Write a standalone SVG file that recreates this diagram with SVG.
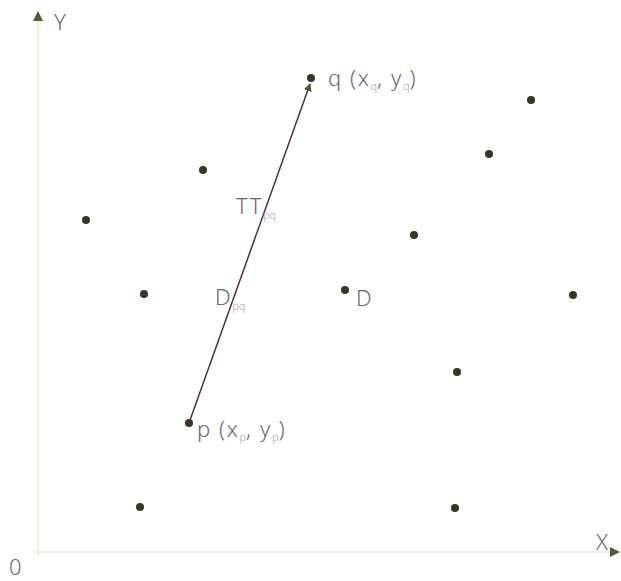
<svg xmlns="http://www.w3.org/2000/svg" width="621" height="581" viewBox="0 0 621 581">
<style>
.lbl{font-family:"Noto Sans","Liberation Sans",sans-serif;font-size:22px;fill:#6a6670;font-weight:300;letter-spacing:1.6px}
.sub{font-size:11px;fill:#9aa6b4;letter-spacing:0}
.pt{fill:#3b3528}
.axis{stroke:#e8e4c8;stroke-width:1.2;fill:none}
</style>
<defs>
<marker id="ah" markerWidth="8" markerHeight="8" refX="7" refY="4" orient="auto" markerUnits="userSpaceOnUse">
<path d="M0,0 L8,4 L0,8 z" fill="#4c5a3a"/>
</marker>
<marker id="axh" markerWidth="10" markerHeight="10" refX="9" refY="5" orient="auto" markerUnits="userSpaceOnUse">
<path d="M0,0 L10,5 L0,10 z" fill="#5a5a3a"/>
</marker>
</defs>
<g id="axes">
<line class="axis" x1="38" y1="556" x2="38" y2="12" marker-end="url(#axh)" stroke="#dfe6ec"/>
<line class="axis" x1="34" y1="552" x2="619" y2="552" marker-end="url(#axh)"/>
<text class="lbl" x="54" y="30">Y</text>
<text class="lbl" x="596" y="550">X</text>
<text class="lbl" x="9" y="575" fill="#8a6a7a">0</text>
</g>
<g id="connectors">
<line x1="189" y1="423" x2="310" y2="84" stroke="#5a2b3e" stroke-width="1.5" marker-end="url(#ah)"/>
</g>
<g id="node-q"><circle class="pt" cx="311" cy="78" r="4" fill="#4a5a38"/>
<text class="lbl" x="328" y="86">q (x<tspan class="sub" dy="4">q</tspan><tspan dy="-4">, y</tspan><tspan class="sub" dy="4">q</tspan><tspan dy="-4">)</tspan></text></g>
<g id="node-p"><circle class="pt" cx="189" cy="423" r="4"/>
<text class="lbl" x="197" y="437">p (x<tspan class="sub" dy="4">p</tspan><tspan dy="-4">, y</tspan><tspan class="sub" dy="4">p</tspan><tspan dy="-4">)</tspan></text></g>
<g id="node-D"><circle class="pt" cx="345" cy="290" r="4"/>
<text class="lbl" x="356" y="306">D</text></g>
<g id="label-TT"><text class="lbl" x="236" y="214">TT<tspan class="sub" dy="5">pq</tspan></text></g>
<g id="label-Dpq"><text class="lbl" x="215" y="305">D<tspan class="sub" dy="5">pq</tspan></text></g>
<g id="points">
<circle class="pt" cx="531" cy="100" r="4"/>
<circle class="pt" cx="489" cy="154" r="4"/>
<circle class="pt" cx="203" cy="170" r="4"/>
<circle class="pt" cx="86" cy="220" r="4"/>
<circle class="pt" cx="414" cy="235" r="4"/>
<circle class="pt" cx="144" cy="294" r="4"/>
<circle class="pt" cx="573" cy="295" r="4"/>
<circle class="pt" cx="457" cy="372" r="4"/>
<circle class="pt" cx="140" cy="507" r="4"/>
<circle class="pt" cx="455" cy="508" r="4"/>
</g>
</svg>
